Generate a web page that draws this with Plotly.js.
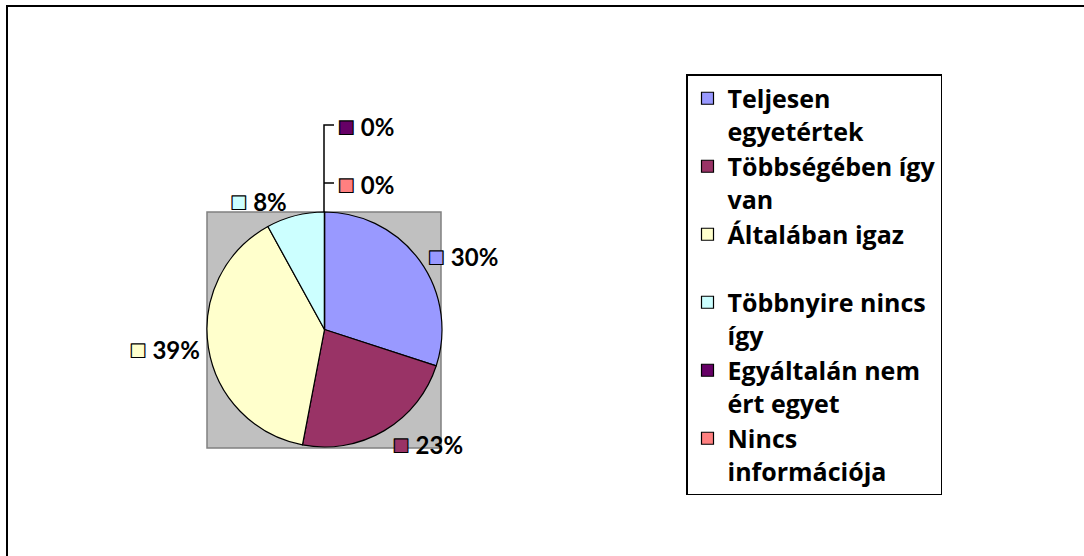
<!DOCTYPE html>
<html>
<head>
<meta charset="utf-8">
<script src="https://cdn.plot.ly/plotly-3.0.1.min.js"></script>
<style>html,body{margin:0;padding:0;background:#fff;}#chart{width:1084px;height:556px;}</style>
</head>
<body>
<div id="chart"></div>
<script>
// ---- data ----
const categories = ["Teljesen egyetértek", "Többségében így van", "Általában igaz", "Többnyire nincs így", "Egyáltalán nem ért egyet", "Nincs információja"];
const legendNames = ["Teljesen<br>egyetértek", "Többségében így<br>van", "Általában igaz<br>&nbsp;", "Többnyire nincs<br>így", "Egyáltalán nem<br>ért egyet", "Nincs<br>információja"];
const values = [30, 23, 39, 8, 0, 0];
const colors = ["#9999FF", "#993366", "#FFFFCC", "#CCFFFF", "#660066", "#FF8080"];

const W = 1084, H = 556;
const px = x => x / W;
const py = y => 1 - y / H;
const LABEL_FONT = {family: "Lato, 'Open Sans', sans-serif", size: 24, color: "#000", weight: "bold"};
const LEGEND_FONT = {family: "'Open Sans', Lato, sans-serif", size: 25, color: "#000", weight: "bold"};

const total = values.reduce((a, b) => a + b, 0);
const pctText = v => Math.round(v / total * 100) + "%";
const swatch = c => "<span style='font-size:28px;fill:" + c + ";stroke:#000;stroke-width:1.2px'>■</span> ";

// labels for zero-valued slices (the pie does not draw them)
const zeroIdx = values.map((v, i) => v === 0 ? i : -1).filter(i => i >= 0);
const zeroY = [125, 183]; // stacked above the pie top
const annotations = zeroIdx.map((idx, k) => ({
  xref: "paper", yref: "paper",
  x: px(336), y: py(zeroY[k]),
  xanchor: "left", yanchor: "middle",
  showarrow: false,
  text: swatch(colors[idx]) + pctText(values[idx]),
  font: LABEL_FONT
}));

const shapes = [
  // outer chart frame (top & left visible)
  {type: "path", xref: "paper", yref: "paper",
   path: `M ${px(7)},${py(556)} L ${px(7)},${py(6)} L ${px(1084)},${py(6)}`,
   line: {color: "#000", width: 2}},
  // gray plot area
  {type: "rect", xref: "paper", yref: "paper", layer: "below",
   x0: px(207), x1: px(441), y0: py(448), y1: py(212),
   fillcolor: "#C0C0C0", line: {color: "#808080", width: 1.5}},
  // leader lines for zero slices
  {type: "path", xref: "paper", yref: "paper",
   path: `M ${px(324)},${py(212)} L ${px(324)},${py(zeroY[0])} L ${px(334)},${py(zeroY[0])} M ${px(324)},${py(zeroY[1])} L ${px(334)},${py(zeroY[1])}`,
   line: {color: "#000", width: 1.5}}
];

const trace = {
  type: "pie",
  labels: legendNames,
  values: values,
  marker: {colors: colors, line: {color: "#000", width: 1.2}},
  sort: false,
  direction: "clockwise",
  rotation: 0,
  textposition: values.map(v => v > 0 ? "outside" : "none"),
  texttemplate: "<span style='font-size:28px;fill:%{color};stroke:#000;stroke-width:1.2px'>■</span> %{percent:.0%}",
  textfont: LABEL_FONT,
  outsidetextfont: LABEL_FONT,
  hovertemplate: "%{label}: %{percent:.0%}<extra></extra>",
  domain: {x: [px(207), px(442)], y: [py(447), py(212)]},
  automargin: false
};

const layout = {
  width: W, height: H,
  margin: {l: 0, r: 0, t: 0, b: 0},
  paper_bgcolor: "#fff",
  showlegend: true,
  legend: {
    x: px(686), y: py(74), xanchor: "left", yanchor: "top",
    bgcolor: "#fff", bordercolor: "#000", borderwidth: 1.5,
    font: LEGEND_FONT, valign: "top", traceorder: "normal"
  },
  shapes: shapes,
  annotations: annotations
};

Plotly.newPlot("chart", [trace], layout, {displayModeBar: false, staticPlot: true});
</script>
</body>
</html>
